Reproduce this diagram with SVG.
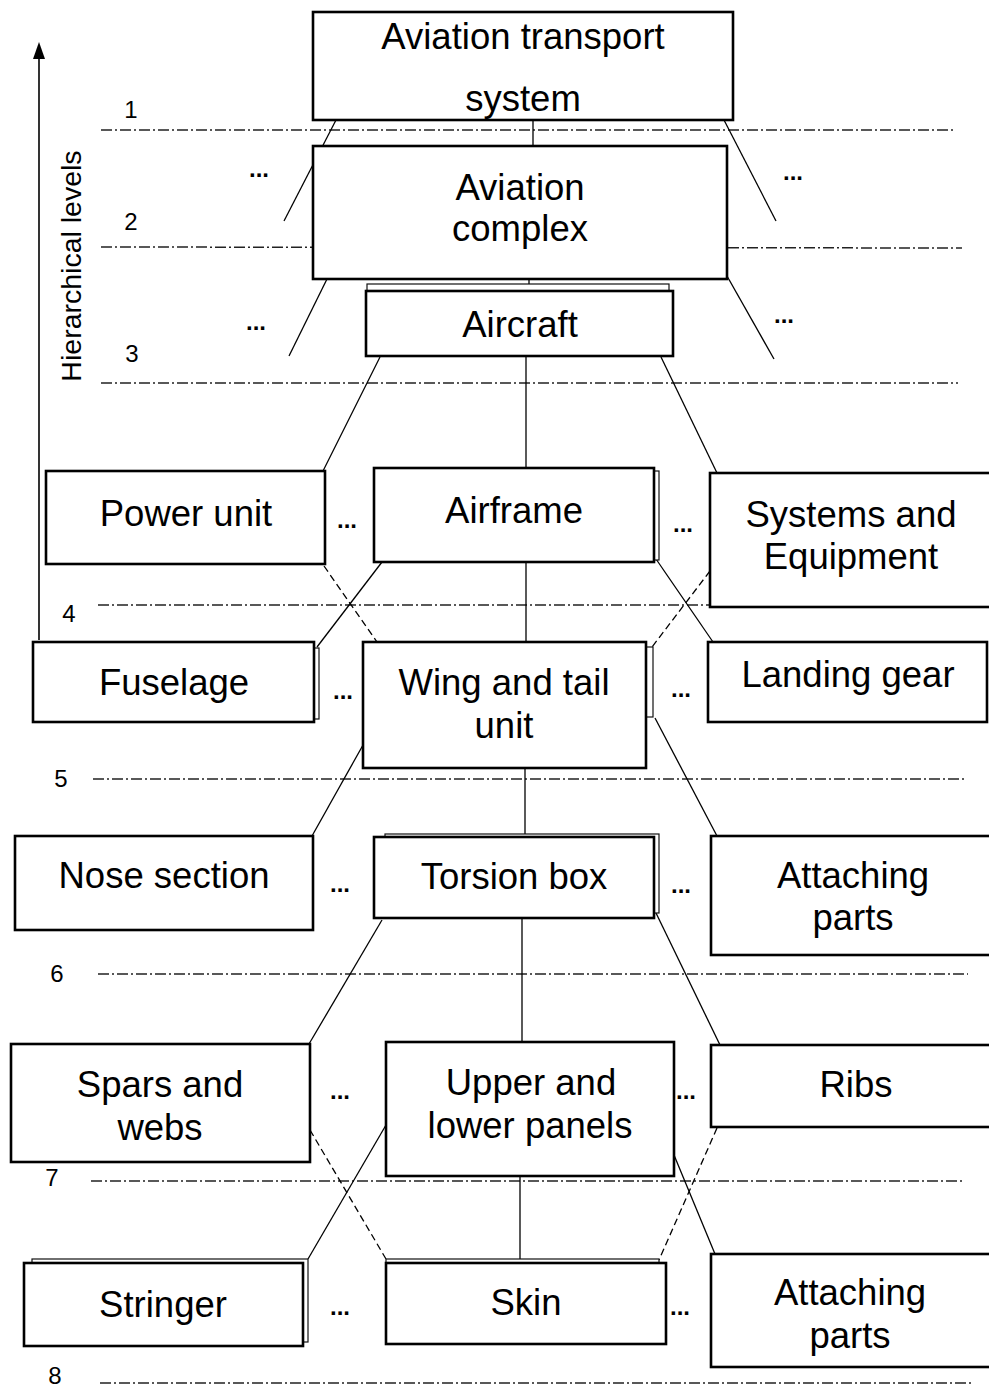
<svg xmlns="http://www.w3.org/2000/svg" width="989" height="1387" viewBox="0 0 989 1387">
  <style>
    .box { fill: #fff; stroke: #000; stroke-width: 2.6; }
    .back { fill: #fff; stroke: #111; stroke-width: 1.2; }
    .lbl { font-family: "Liberation Sans", Arial, sans-serif; font-size: 36.5px; fill: #000; text-anchor: middle; }
    .num { font-family: "Liberation Sans", Arial, sans-serif; font-size: 24px; fill: #000; text-anchor: middle; }
    .dots { font-family: "Liberation Sans", Arial, sans-serif; font-size: 24px; font-weight: bold; fill: #000; text-anchor: middle; }
    .axis-title { font-family: "Liberation Sans", Arial, sans-serif; font-size: 28.5px; fill: #000; text-anchor: middle; }
    .level { stroke: #222; stroke-width: 1.5; stroke-dasharray: 11 3 2 3; fill: none; }
    .link { stroke: #000; stroke-width: 1.3; fill: none; }
    .alt { stroke: #000; stroke-width: 1.3; fill: none; stroke-dasharray: 7 4; }
  </style>

  <rect width="989" height="1387" fill="#fff"/>

  <!-- hierarchy axis -->
  <g id="axis">
    <line x1="39" y1="640" x2="39" y2="56" stroke="#000" stroke-width="1.6"/>
    <path d="M33,59 L39,42 L45,59 Z" fill="#000"/>
    <text class="axis-title" transform="translate(81,266) rotate(-90)">Hierarchical levels</text>
  </g>

  <!-- level separators and numbers -->
  <g id="levels">
    <line class="level" x1="101" y1="130" x2="956" y2="130"/>
    <line class="level" x1="101" y1="247" x2="962" y2="248"/>
    <line class="level" x1="101" y1="383" x2="958" y2="383"/>
    <line class="level" x1="98" y1="605" x2="960" y2="605"/>
    <line class="level" x1="93" y1="779" x2="965" y2="779"/>
    <line class="level" x1="98" y1="974" x2="968" y2="974"/>
    <line class="level" x1="91" y1="1181" x2="962" y2="1181"/>
    <line class="level" x1="100" y1="1383" x2="971" y2="1383"/>
    <text class="num" x="131" y="118">1</text>
    <text class="num" x="131" y="230">2</text>
    <text class="num" x="132" y="362">3</text>
    <text class="num" x="69" y="622">4</text>
    <text class="num" x="61" y="787">5</text>
    <text class="num" x="57" y="982">6</text>
    <text class="num" x="52" y="1186">7</text>
    <text class="num" x="55" y="1384">8</text>
  </g>

  <!-- connectors -->
  <g id="connectors">
    <line class="link" x1="533" y1="120" x2="533" y2="146"/>
    <line class="link" x1="336" y1="120" x2="284" y2="221"/>
    <line class="link" x1="724" y1="120" x2="776" y2="221"/>
    <line class="link" x1="327" y1="279" x2="289" y2="356"/>
    <line class="link" x1="727" y1="276" x2="774" y2="359"/>
    <line class="link" x1="529" y1="279" x2="529" y2="284"/>

    <line class="link" x1="380" y1="357" x2="323" y2="471"/>
    <line class="link" x1="526" y1="357" x2="526" y2="468"/>
    <line class="link" x1="661" y1="357" x2="717" y2="473"/>

    <line class="link" x1="382" y1="562" x2="317" y2="647"/>
    <line class="link" x1="526" y1="562" x2="526" y2="642"/>
    <line class="link" x1="656" y1="559" x2="713" y2="642"/>
    <line class="alt" x1="324" y1="566" x2="377" y2="642"/>
    <line class="alt" x1="710" y1="571" x2="652" y2="647"/>

    <line class="link" x1="363" y1="745" x2="312" y2="836"/>
    <line class="link" x1="525" y1="768" x2="525" y2="836"/>
    <line class="link" x1="655" y1="718" x2="717" y2="836"/>

    <line class="link" x1="382" y1="920" x2="309" y2="1044"/>
    <line class="link" x1="522" y1="918" x2="522" y2="1042"/>
    <line class="link" x1="656" y1="913" x2="720" y2="1045"/>

    <line class="link" x1="386" y1="1125" x2="308" y2="1259"/>
    <line class="link" x1="520" y1="1176" x2="520" y2="1259"/>
    <line class="link" x1="674" y1="1155" x2="715" y2="1254"/>
    <line class="alt" x1="310" y1="1130" x2="386" y2="1259"/>
    <line class="alt" x1="717" y1="1128" x2="659" y2="1260"/>
  </g>

  <!-- elision marks -->
  <g id="ellipses">
    <text class="dots" x="259" y="177">...</text>
    <text class="dots" x="793" y="180">...</text>
    <text class="dots" x="256" y="330">...</text>
    <text class="dots" x="784" y="323">...</text>
    <text class="dots" x="347" y="528">...</text>
    <text class="dots" x="683" y="532">...</text>
    <text class="dots" x="343" y="699">...</text>
    <text class="dots" x="681" y="697">...</text>
    <text class="dots" x="340" y="892">...</text>
    <text class="dots" x="681" y="893">...</text>
    <text class="dots" x="340" y="1099">...</text>
    <text class="dots" x="686" y="1099">...</text>
    <text class="dots" x="340" y="1315">...</text>
    <text class="dots" x="680" y="1315">...</text>
  </g>

  <!-- level 1-3 -->
  <g id="aviation-transport-system">
    <rect class="box" x="313" y="12" width="420" height="108"/>
    <text class="lbl" x="523" y="49">Aviation transport</text>
    <text class="lbl" x="523" y="111">system</text>
  </g>
  <g id="aviation-complex">
    <rect class="box" x="313" y="146" width="414" height="133"/>
    <text class="lbl" x="520" y="200">Aviation</text>
    <text class="lbl" x="520" y="241">complex</text>
  </g>
  <g id="aircraft">
    <rect class="back" x="367" y="284" width="302" height="60"/>
    <rect class="box" x="366" y="291" width="307" height="65"/>
    <text class="lbl" x="520" y="337">Aircraft</text>
  </g>

  <!-- level 4 -->
  <g id="power-unit">
    <rect class="box" x="46" y="471" width="279" height="93"/>
    <text class="lbl" x="186" y="526">Power unit</text>
  </g>
  <g id="airframe">
    <rect class="back" x="380" y="471" width="279" height="89"/>
    <rect class="box" x="374" y="468" width="280" height="94"/>
    <text class="lbl" x="514" y="523">Airframe</text>
  </g>
  <g id="systems-and-equipment">
    <rect class="box" x="710" y="473" width="290" height="134"/>
    <text class="lbl" x="851" y="527">Systems and</text>
    <text class="lbl" x="851" y="569">Equipment</text>
  </g>

  <!-- level 5 -->
  <g id="fuselage">
    <rect class="back" x="40" y="648" width="279" height="71"/>
    <rect class="box" x="33" y="642" width="281" height="80"/>
    <text class="lbl" x="174" y="695">Fuselage</text>
  </g>
  <g id="wing-and-tail-unit">
    <rect class="back" x="370" y="647" width="283" height="70"/>
    <rect class="box" x="363" y="642" width="283" height="126"/>
    <text class="lbl" x="504" y="695">Wing and tail</text>
    <text class="lbl" x="504" y="738">unit</text>
  </g>
  <g id="landing-gear">
    <rect class="box" x="708" y="642" width="279" height="80"/>
    <text class="lbl" x="848" y="687">Landing gear</text>
  </g>

  <!-- level 6 -->
  <g id="nose-section">
    <rect class="box" x="15" y="836" width="298" height="94"/>
    <text class="lbl" x="164" y="888">Nose section</text>
  </g>
  <g id="torsion-box">
    <rect class="back" x="385" y="834" width="274" height="79"/>
    <rect class="box" x="374" y="837" width="280" height="81"/>
    <text class="lbl" x="514" y="889">Torsion box</text>
  </g>
  <g id="attaching-parts-6">
    <rect class="box" x="711" y="836" width="290" height="119"/>
    <text class="lbl" x="853" y="888">Attaching</text>
    <text class="lbl" x="853" y="930">parts</text>
  </g>

  <!-- level 7 -->
  <g id="spars-and-webs">
    <rect class="box" x="11" y="1044" width="299" height="118"/>
    <text class="lbl" x="160" y="1097">Spars and</text>
    <text class="lbl" x="160" y="1140">webs</text>
  </g>
  <g id="upper-and-lower-panels">
    <rect class="box" x="386" y="1042" width="288" height="134"/>
    <text class="lbl" x="531" y="1095">Upper and</text>
    <text class="lbl" x="530" y="1138">lower panels</text>
  </g>
  <g id="ribs">
    <rect class="box" x="711" y="1045" width="290" height="82"/>
    <text class="lbl" x="856" y="1097">Ribs</text>
  </g>

  <!-- level 8 -->
  <g id="stringer">
    <rect class="back" x="32" y="1259" width="276" height="83"/>
    <rect class="box" x="24" y="1263" width="279" height="83"/>
    <text class="lbl" x="163" y="1317">Stringer</text>
  </g>
  <g id="skin">
    <rect class="back" x="386" y="1259" width="273" height="81"/>
    <rect class="box" x="386" y="1263" width="280" height="81"/>
    <text class="lbl" x="526" y="1315">Skin</text>
  </g>
  <g id="attaching-parts-8">
    <rect class="box" x="711" y="1254" width="290" height="113"/>
    <text class="lbl" x="850" y="1305">Attaching</text>
    <text class="lbl" x="850" y="1348">parts</text>
  </g>
</svg>
